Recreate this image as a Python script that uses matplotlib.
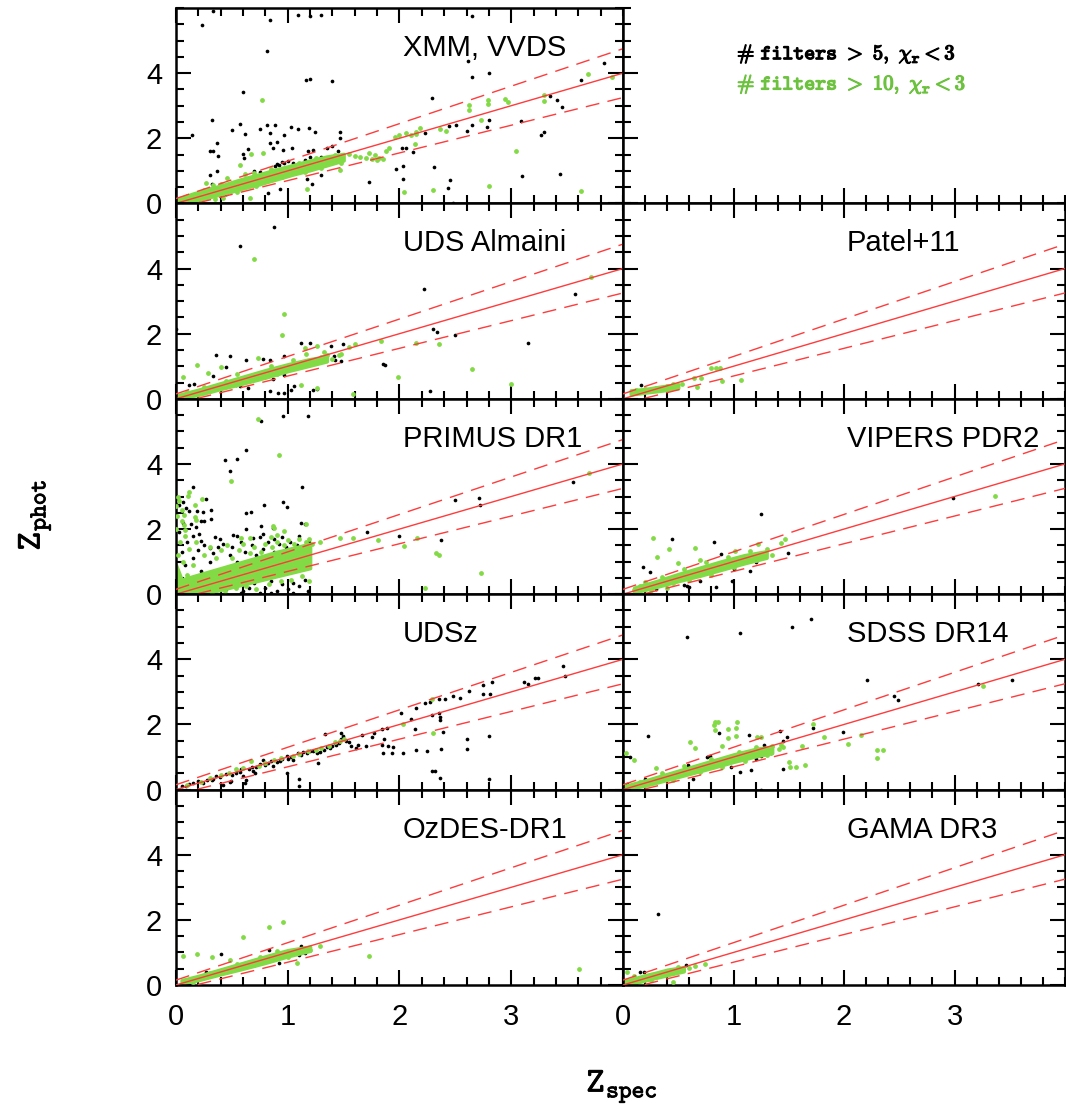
import matplotlib
matplotlib.use('Agg')
import matplotlib.pyplot as plt
import matplotlib.patheffects as pe
from matplotlib.ticker import MultipleLocator
import numpy as np

plt.rcParams['mathtext.fontset'] = 'cm'
plt.rcParams['font.family'] = ['Liberation Sans', 'DejaVu Sans']

GREEN = '#82da44'
GREEN_TXT = '#6cc23f'
RED = '#ff3b3b'

# ---------------------------------------------------------------- data
# (z_spec, z_phot) pairs; "core" = dense green locus (x, lower, upper)
xmm_black = [
    (0.23, 5.48), (0.33, 5.9), (0.84, 5.63), (0.81, 4.68), (1.09, 5.8), (1.2, 5.75), (1.3, 5.8),
    (2.65, 5.75), (0.6, 3.42), (1.16, 3.78), (1.2, 3.83), (1.4, 3.75), (2.61, 4.37), (2.65, 3.88),
    (2.8, 4.01), (3.83, 4.3), (3.62, 3.79), (2.29, 3.24), (3.41, 3.19), (3.45, 2.95), (3.35, 3.29),
    (0.14, 2.11), (0.32, 2.55), (0.5, 2.26), (0.57, 2.45), (0.62, 2.13), (0.75, 2.29), (0.81, 2.4),
    (0.89, 2.4), (0.84, 2.16), (0.97, 2.09), (1.03, 2.34), (1.09, 2.28), (1.19, 2.32), (1.24, 2.19),
    (1.47, 2.19), (1.47, 2.01), (0.3, 1.62), (0.33, 1.6), (0.38, 1.45), (0.37, 1.86), (0.64, 1.67),
    (0.6, 1.52), (0.61, 1.39), (0.87, 1.7), (0.9, 1.89), (0.84, 1.86), (0.96, 1.65), (1.04, 1.7),
    (1.18, 1.6), (1.23, 1.65), (0.92, 1.19), (0.89, 1.16), (0.97, 1.24), (0.99, 1.09), (1.4, 1.75),
    (1.35, 1.7), (1.45, 1.6), (2.02, 1.7), (2.06, 1.7), (2.12, 1.58), (2.23, 2.16), (2.51, 2.42),
    (2.65, 2.42), (2.8, 2.57), (2.78, 2.34), (3.09, 2.54), (3.27, 2.11), (3.29, 2.18), (2.6, 2.21),
    (2.44, 2.39), (1.97, 1.06), (2.03, 1.16), (2.31, 1.12), (1.73, 0.65), (2.03, 0.76), (2.45, 0.73),
    (2.43, 0.47), (2.48, 0.01), (3.1, 0.83), (3.44, 0.9), (0.3, 0.86), (0.32, 0.59), (0.37, 1.01),
    (0.82, 0.32), (0.93, 0.45), (1.17, 0.75), (1.22, 0.6), (1.3, 0.86), (0.9, 1.22), (0.95, 1.28),
    (1.0, 1.31), (1.05, 1.25), (1.15, 1.34), (1.2, 1.42), (1.3, 1.41), (0.7, 1.0), (0.75, 0.95),
    (0.2, 0.05), (0.45, 0.3),
]
xmm_green = [
    (0.77, 3.17), (1.17, 0.44), (2.04, 0.34), (2.3, 0.41), (2.8, 0.52), (3.04, 1.61), (3.62, 0.39),
    (3.69, 3.96), (3.9, 3.88), (3.29, 3.34), (3.29, 3.14), (2.79, 3.17), (2.79, 3.04), (2.94, 3.22),
    (2.97, 3.12), (2.62, 3.02), (2.62, 2.86), (2.73, 2.55), (2.36, 2.27), (2.42, 2.22), (2.18, 2.3),
    (2.15, 2.19), (2.0, 2.11), (2.06, 2.15), (2.1, 2.1), (2.15, 2.12), (1.96, 2.05), (2.14, 1.81),
    (1.65, 1.42), (1.7, 1.38), (1.75, 1.35), (1.8, 1.33), (1.85, 1.35), (1.82, 1.4), (1.91, 1.7),
    (1.88, 1.6), (1.78, 1.5), (1.73, 1.55), (1.47, 1.04), (0.78, 1.55), (0.67, 1.52), (0.57, 1.19),
    (0.66, 0.16), (0.42, 0.16), (0.33, 0.57), (0.27, 0.63), (0.46, 0.78), (0.1, 0.22), (0.25, 0.4),
    (0.35, 0.15), (0.5, 0.64), (0.55, 0.35), (0.7, 0.92), (0.72, 0.52), (0.85, 1.06), (0.95, 0.8),
    (1.1, 1.24), (1.15, 0.95), (1.25, 1.38), (1.3, 1.1), (1.42, 1.5), (1.48, 1.25), (1.55, 1.52),
    (1.6, 1.46), (0.05, 0.16), (0.62, 0.9), (0.4, 0.6), (1.0, 0.9),
]
xmm_core = ([0.0, 0.15, 0.3, 0.45, 0.6, 0.75, 0.9, 1.05, 1.2, 1.35, 1.5],
            [0.0, 0.07, 0.19, 0.32, 0.46, 0.59, 0.74, 0.89, 1.02, 1.17, 1.32],
            [0.12, 0.3, 0.45, 0.6, 0.76, 0.9, 1.05, 1.18, 1.32, 1.44, 1.52])

uds_black = [
    (0.88, 5.28), (0.57, 4.69), (2.22, 3.37), (2.3, 2.13), (2.34, 2.06), (2.5, 1.95), (3.15, 1.71),
    (3.57, 3.21), (1.85, 1.08), (1.87, 1.03), (1.41, 1.3), (1.42, 1.2), (1.48, 1.16), (1.39, 1.61),
    (1.49, 1.69), (1.12, 1.72), (1.2, 1.71), (0.36, 1.34), (0.48, 1.3), (0.63, 1.18), (0.45, 0.97),
    (0.78, 1.23), (0.84, 1.2), (0.97, 1.3), (0.12, 0.41), (0.16, 0.46), (0.33, 0.69), (0.54, 0.41),
    (0.57, 0.38), (0.64, 0.34), (0.84, 0.23), (0.91, 0.17), (0.97, 0.17), (1.03, 0.26), (1.06, 0.38),
    (1.23, 0.26), (1.26, 0.31), (0.87, 0.62), (0.97, 0.72), (0.79, 0.69), (2.27, 0.23), (0.0, 2.15),
    (1.0, 0.95), (1.1, 1.05), (0.3, 0.25), (0.6, 0.55),
]
uds_green = [
    (0.7, 4.28), (0.97, 2.59), (0.95, 1.95), (1.15, 1.56), (1.26, 1.62), (1.16, 1.38), (1.32, 1.44),
    (1.3, 1.28), (1.46, 1.33), (1.48, 1.38), (1.55, 1.59), (1.6, 1.69), (1.83, 1.79), (2.15, 1.72),
    (2.35, 1.67), (1.99, 0.67), (2.65, 0.9), (3.0, 0.46), (3.71, 3.74), (1.58, 0.15), (1.26, 0.33),
    (1.12, 0.41), (0.19, 1.03), (0.73, 1.26), (0.4, 0.97), (0.29, 0.79), (0.06, 0.67), (0.1, 0.2),
    (0.25, 0.35), (0.45, 0.55), (0.55, 0.75), (0.7, 0.6), (0.85, 1.0), (0.9, 0.75), (1.05, 1.2),
    (1.2, 1.1), (1.35, 1.35), (1.4, 1.22),
]
uds_core = ([0.0, 0.2, 0.4, 0.6, 0.8, 1.0, 1.2, 1.35],
            [0.0, 0.12, 0.3, 0.47, 0.65, 0.85, 1.02, 1.15],
            [0.1, 0.28, 0.48, 0.68, 0.88, 1.06, 1.22, 1.3])

primus_black = [
    (0.76, 5.33), (0.96, 5.47), (1.18, 5.48), (0.63, 4.43), (0.55, 4.15), (0.44, 4.11), (0.48, 3.79),
    (1.13, 3.28), (0.15, 3.3), (0.96, 2.83), (0.99, 2.67), (0.79, 2.73), (0.63, 2.49), (0.67, 2.53),
    (0.27, 2.91), (0.31, 2.58), (0.24, 2.52), (0.19, 2.54), (0.06, 2.83), (0.03, 2.75), (0.09, 2.65),
    (0.12, 2.54), (0.22, 2.26), (0.25, 2.26), (0.31, 2.3), (0.63, 1.99), (0.76, 2.09), (0.87, 2.03),
    (1.12, 2.18), (1.15, 2.15), (0.18, 2.05), (0.13, 2.15), (0.21, 1.86), (0.22, 1.62), (0.3, 1.42),
    (0.39, 1.7), (0.51, 1.83), (0.69, 1.72), (0.78, 1.85), (0.88, 1.7), (3.55, 3.45), (2.5, 2.9),
    (2.71, 2.95), (2.72, 2.75), (1.71, 1.91), (2.0, 1.79), (2.37, 1.65),
    (0.05, 1.3), (0.08, 0.9), (0.1, 1.6), (0.12, 0.4), (0.15, 1.1), (0.2, 1.35), (0.22, 0.7),
    (0.25, 1.5), (0.28, 0.2), (0.3, 1.0), (0.33, 1.25), (0.35, 0.05), (0.38, 1.45), (0.4, 0.75),
    (0.42, 1.55), (0.45, 0.15), (0.48, 1.2), (0.5, 1.45), (0.52, 0.3), (0.55, 1.0), (0.58, 1.6),
    (0.6, 0.1), (0.62, 1.3), (0.65, 0.2), (0.68, 1.5), (0.7, 0.35), (0.72, 1.2), (0.75, 0.05),
    (0.78, 1.4), (0.8, 0.2), (0.82, 1.6), (0.85, 0.4), (0.88, 1.3), (0.9, 0.1), (0.92, 1.55),
    (0.95, 0.3), (0.98, 1.45), (1.0, 0.15), (1.02, 1.6), (1.05, 0.35), (1.08, 1.5), (1.1, 0.25),
    (1.12, 1.4), (1.15, 0.45), (1.18, 0.1), (1.19, 1.6), (0.02, 0.5), (0.03, 1.9), (0.06, 2.2),
    (0.15, 1.8), (0.35, 1.75), (0.55, 1.8), (0.75, 1.75), (0.95, 1.75), (1.1, 1.8), (0.17, 0.02),
    (0.4, 0.02), (0.58, 0.03), (0.85, 0.05), (1.05, 0.03),
]
primus_green = [
    (0.73, 5.38), (0.92, 4.27), (0.49, 3.47), (0.12, 3.14), (0.11, 3.03), (0.17, 2.75), (0.23, 2.93),
    (0.05, 2.6), (0.07, 2.44), (0.17, 2.36), (0.18, 2.29), (0.05, 2.24), (0.07, 2.11), (0.08, 1.98),
    (0.87, 2.08), (0.88, 2.03), (0.97, 1.93), (1.16, 2.15), (0.58, 1.72), (0.66, 1.72), (0.85, 1.77),
    (0.9, 1.83), (3.7, 3.72), (1.47, 1.72), (1.58, 1.72), (1.81, 1.67), (2.16, 1.74), (2.04, 1.47),
    (2.33, 1.28), (2.35, 1.19), (2.73, 0.65), (2.23, 0.18), (1.29, 1.6),
    (0.02, 1.2), (0.04, 1.6), (0.06, 1.0), (0.08, 1.8), (0.1, 0.6), (0.12, 1.4), (0.15, 0.9),
    (0.18, 1.6), (0.2, 0.2), (0.25, 1.2), (0.3, 1.45), (0.32, 0.05), (0.36, 1.1), (0.4, 1.35),
    (0.44, 0.1), (0.46, 1.5), (0.5, 1.1), (0.54, 0.2), (0.56, 1.35), (0.6, 1.55), (0.63, 0.25),
    (0.66, 1.25), (0.7, 1.45), (0.72, 0.15), (0.76, 1.3), (0.8, 1.55), (0.83, 0.3), (0.86, 1.45),
    (0.9, 1.6), (0.94, 0.4), (0.97, 1.5), (1.0, 1.65), (1.03, 0.45), (1.06, 1.55), (1.1, 1.68),
    (1.13, 0.55), (1.16, 1.6), (1.19, 1.7), (1.19, 0.4), (1.22, 1.55), (0.0, 2.7), (0.01, 2.4),
    (0.02, 3.0), (0.0, 2.0), (0.03, 2.85),
]
primus_core = ([0.0, 0.05, 0.3, 0.6, 0.9, 1.2],
               [0.0, 0.0, 0.05, 0.3, 0.55, 0.8],
               [0.9, 0.45, 0.7, 1.0, 1.3, 1.55])

udsz_black = [
    (3.46, 3.8), (3.48, 3.5), (3.11, 3.3), (3.15, 3.25), (3.21, 3.42), (3.24, 3.42), (2.75, 3.2),
    (2.83, 3.31), (2.75, 2.95), (2.81, 2.95), (2.62, 3.03), (2.54, 2.82), (2.48, 2.87), (2.41, 2.79),
    (2.35, 2.77), (2.27, 2.69), (2.23, 2.67), (2.15, 2.51), (2.01, 2.34), (2.1, 2.18), (2.35, 2.34),
    (2.36, 2.24), (2.36, 2.13), (2.29, 2.28), (2.14, 1.85), (2.39, 1.77), (2.6, 1.56), (2.8, 1.64),
    (2.6, 1.26), (2.37, 1.26), (2.25, 1.2), (2.15, 1.23), (2.03, 1.13), (1.93, 1.13), (1.85, 1.13),
    (1.94, 1.3), (1.9, 1.33), (1.84, 1.38), (1.86, 1.56), (1.77, 1.74), (1.89, 1.9), (1.84, 1.85),
    (1.75, 1.62), (1.66, 1.69), (1.63, 1.38), (1.57, 1.33), (1.61, 1.28), (1.7, 1.33), (2.29, 0.56),
    (2.32, 0.56), (2.36, 0.36), (2.8, 0.34), (1.1, 0.33), (1.1, 0.12), (0.99, 0.51), (1.27, 0.82),
    (1.33, 1.71), (1.48, 1.74), (1.49, 1.59), (1.42, 1.44), (0.63, 0.28), (0.62, 0.21), (0.48, 0.23),
    (0.71, 0.51), (0.09, 0.12), (0.24, 0.21), (0.33, 0.33), (0.39, 0.38), (0.42, 0.15), (0.49, 0.26),
    (0.54, 0.51), (0.6, 0.43), (0.69, 0.56), (0.78, 0.92), (0.82, 0.82), (0.87, 0.72), (0.93, 0.87),
    (0.99, 1.03), (1.05, 0.92), (1.09, 1.13), (1.14, 1.15), (1.2, 1.18), (1.26, 1.13), (1.32, 1.23),
    (1.38, 1.28), (1.43, 1.38), (1.48, 1.54), (1.49, 1.64), (1.52, 1.5), (1.55, 1.45), (0.15, 0.2),
    (0.2, 0.25), (0.28, 0.3), (0.36, 0.42), (0.45, 0.48), (0.5, 0.45), (0.57, 0.55), (0.65, 0.62),
    (0.72, 0.7), (0.75, 0.78), (0.8, 0.75), (0.85, 0.88), (0.9, 0.85), (0.95, 0.95), (1.0, 0.93),
    (1.03, 1.0), (1.12, 1.07), (1.17, 1.12), (1.23, 1.2), (1.29, 1.15), (1.35, 1.3), (1.4, 1.35),
    (1.46, 1.42), (0.12, 0.18), (0.32, 0.28), (0.58, 0.62), (0.68, 0.68), (0.05, 0.1),
]
udsz_green = [
    (2.03, 2.02), (2.3, 1.74), (2.29, 2.77), (0.67, 0.87), (0.54, 0.63), (0.4, 0.45), (0.47, 0.52),
    (0.6, 0.66), (0.74, 0.74), (0.8, 0.82), (0.88, 0.92), (0.94, 0.98), (1.05, 1.02), (1.1, 1.1),
    (1.18, 1.2), (1.25, 1.22), (1.3, 1.28), (1.37, 1.35), (1.42, 1.47), (1.47, 1.5), (1.5, 1.56),
    (0.3, 0.35), (0.22, 0.22), (0.1, 0.15),
]

patel_black = [(0.16, 0.43)]
patel_green = [
    (0.8, 0.95), (0.84, 0.95), (0.88, 0.95), (0.9, 0.54), (1.07, 0.58), (0.67, 0.36), (0.53, 0.46),
    (0.64, 0.65), (0.71, 0.63), (0.08, 0.18), (0.12, 0.28), (0.2, 0.3), (0.3, 0.32), (0.4, 0.38),
    (0.45, 0.45),
]
patel_core = ([0.07, 0.2, 0.35, 0.5],
              [0.13, 0.19, 0.25, 0.33],
              [0.26, 0.3, 0.38, 0.45])

vipers_black = [
    (1.25, 2.46), (2.99, 2.95), (0.82, 1.6), (0.44, 1.7), (0.18, 0.83), (0.24, 0.68), (1.49, 1.26),
    (1.15, 0.72), (0.84, 0.21), (0.58, 0.24), (0.89, 1.23), (0.99, 0.41), (0.55, 0.28), (0.6, 0.22),
    (0.3, 0.15), (0.7, 0.4), (1.0, 0.78), (1.2, 1.0),
]
vipers_green = [
    (3.37, 3.02), (0.27, 1.72), (0.42, 1.38), (0.31, 1.13), (1.47, 1.69), (1.43, 1.57), (1.22, 1.54),
    (1.01, 1.34), (0.65, 1.41), (0.5, 0.95), (0.15, 0.25), (0.2, 0.38), (0.35, 0.52), (0.45, 0.33),
    (0.55, 0.78), (0.6, 0.45), (0.75, 0.98), (0.8, 0.6), (0.95, 1.15), (1.0, 0.85), (1.15, 1.32),
    (1.2, 1.05), (1.3, 1.38), (1.35, 1.2), (0.1, 0.12), (0.25, 0.12), (0.4, 0.2), (0.7, 1.05),
]
vipers_core = ([0.1, 0.3, 0.5, 0.7, 0.9, 1.1, 1.3],
               [0.05, 0.22, 0.4, 0.57, 0.76, 0.95, 1.12],
               [0.2, 0.4, 0.62, 0.82, 1.02, 1.2, 1.32])

sdss_black = [
    (0.58, 4.69), (1.06, 4.81), (1.53, 4.99), (1.7, 5.23), (2.21, 3.38), (2.45, 2.87), (2.49, 2.74),
    (3.21, 3.23), (3.52, 3.38), (0.23, 1.64), (1.72, 1.88), (1.99, 1.77), (1.42, 1.81), (1.45, 1.49),
    (1.48, 1.62), (1.14, 1.67), (1.28, 1.36), (1.25, 1.04), (1.34, 1.11), (1.45, 0.63), (1.16, 0.59),
    (1.06, 0.54), (0.98, 0.7), (0.63, 0.34), (0.59, 0.75), (0.76, 0.99), (0.79, 1.03), (1.25, 0.0),
    (0.06, 0.99), (0.04, 0.16), (0.2, 0.34), (0.87, 1.74), (1.2, 0.95), (1.3, 1.2),
]
sdss_green = [
    (0.83, 2.08), (0.86, 2.08), (0.83, 1.83), (1.03, 2.08), (1.02, 1.9), (1.02, 1.65), (0.95, 1.85),
    (0.95, 1.58), (0.82, 1.98), (0.61, 1.45), (0.65, 1.29), (0.9, 1.33), (1.21, 1.62), (1.25, 1.62),
    (1.43, 1.36), (1.45, 1.31), (1.41, 1.26), (1.5, 0.85), (1.51, 0.7), (1.57, 0.7), (1.65, 0.75),
    (1.62, 1.33), (1.72, 2.0), (1.82, 1.6), (2.04, 1.41), (2.15, 1.67), (2.3, 1.21), (2.35, 1.21),
    (2.3, 0.98), (3.26, 3.18), (0.1, 0.9), (0.03, 1.12), (0.3, 0.65), (1.32, 1.19), (0.15, 0.22),
    (0.35, 0.5), (0.45, 0.3), (0.55, 0.72), (0.7, 0.55), (0.8, 0.95), (0.9, 0.7), (1.05, 1.15),
    (1.1, 0.88), (1.2, 1.3), (1.3, 1.05), (1.35, 1.35),
]
sdss_core = ([0.0, 0.2, 0.4, 0.6, 0.8, 1.0, 1.2, 1.35],
             [0.0, 0.12, 0.3, 0.48, 0.66, 0.85, 1.02, 1.12],
             [0.1, 0.28, 0.48, 0.68, 0.88, 1.08, 1.25, 1.32])

ozdes_black = [
    (0.4, 0.96), (1.12, 1.21), (1.1, 0.93), (1.15, 0.98), (0.83, 1.08), (0.92, 0.67), (0.27, 0.41),
    (0.07, 0.1), (1.05, 1.0),
]
ozdes_green = [
    (0.96, 1.92), (0.83, 1.77), (0.6, 1.48), (0.06, 0.9), (0.19, 0.96), (0.32, 0.85), (0.48, 0.77),
    (1.73, 0.88), (3.61, 0.48), (1.08, 0.69), (1.29, 1.2), (0.15, 0.1), (0.3, 0.38), (0.45, 0.4),
    (0.55, 0.65), (0.7, 0.6), (0.75, 0.85), (0.9, 1.05), (1.0, 0.85), (1.15, 1.15), (1.2, 1.08),
]
ozdes_core = ([0.05, 0.2, 0.4, 0.6, 0.8, 1.0, 1.2],
              [0.05, 0.15, 0.33, 0.5, 0.68, 0.88, 1.05],
              [0.15, 0.28, 0.48, 0.68, 0.88, 1.07, 1.18])

gama_black = [(0.32, 2.19), (0.15, 0.41), (0.19, 0.39), (0.57, 0.61)]
gama_green = [
    (0.45, 0.1), (0.6, 0.51), (0.65, 0.58), (0.74, 0.66), (0.04, 0.41), (0.1, 0.28), (0.25, 0.15),
    (0.5, 0.55),
]
gama_core = ([0.0, 0.1, 0.2, 0.3, 0.4, 0.55],
             [0.0, 0.05, 0.14, 0.22, 0.3, 0.42],
             [0.12, 0.2, 0.3, 0.38, 0.47, 0.55])

panels = [
    [('XMM, VVDS', xmm_black, xmm_green, xmm_core), None],
    [('UDS Almaini', uds_black, uds_green, uds_core), ('Patel+11', patel_black, patel_green, patel_core)],
    [('PRIMUS DR1', primus_black, primus_green, primus_core), ('VIPERS PDR2', vipers_black, vipers_green, vipers_core)],
    [('UDSz', udsz_black, udsz_green, None), ('SDSS DR14', sdss_black, sdss_green, sdss_core)],
    [('OzDES-DR1', ozdes_black, ozdes_green, ozdes_core), ('GAMA DR3', gama_black, gama_green, gama_core)],
]


def style_ticks(ax, left_labels, bottom_labels):
    ax.set_xlim(0, 4)
    ax.set_ylim(0, 6)
    ax.set_xticks([0, 1, 2, 3])
    ax.set_yticks([0, 2, 4])
    ax.xaxis.set_minor_locator(MultipleLocator(0.2))
    ax.yaxis.set_minor_locator(MultipleLocator(0.5))
    ax.tick_params(which='both', direction='in', top=True, right=True, width=1.5,
                   labelleft=left_labels, labelbottom=bottom_labels, labelsize=21)
    ax.tick_params(which='major', length=11)
    ax.tick_params(which='minor', length=5.5)
    ax.tick_params(axis='x', pad=13)
    ax.tick_params(axis='y', pad=10)
    for sp in ax.spines.values():
        sp.set_linewidth(1.8)


def draw_panel(ax, name, black, green, core):
    if core is not None:
        ax.fill_between(core[0], core[1], core[2], color=GREEN, lw=2.5, zorder=2)
    b = np.array(black)
    g = np.array(green)
    ax.scatter(b[:, 0], b[:, 1], s=7, color='black', lw=0, zorder=1)
    ax.scatter(g[:, 0], g[:, 1], s=12, color=GREEN, lw=0, zorder=3)
    z = np.array([0.0, 4.0])
    ax.plot(z, z, color=RED, lw=1.0, zorder=4)
    for sgn in (1, -1):
        ax.plot(z, z + sgn * 0.15 * (1 + z), color=RED, lw=1.0, dashes=(10, 6), zorder=4)
    ax.text(0.507, 0.795, name, transform=ax.transAxes, fontsize=21,
            ha='left', va='center')


fig = plt.figure(figsize=(10.66, 11.07), dpi=100)
W, H = 1066.0, 1107.0
x_left = [176, 623]
widths = [447, 442]
top, bottom = 8, 985
row_h = (bottom - top) / 5.0

for r, row in enumerate(panels):
    for c, spec in enumerate(row):
        y0 = top + (r + 1) * row_h
        rect = [x_left[c] / W, 1 - y0 / H, widths[c] / W, row_h / H]
        ax = fig.add_axes(rect)
        if spec is None:
            # corner slot: only the shared left/bottom edges, plus the sample key
            style_ticks(ax, False, False)
            ax.spines['top'].set_visible(False)
            ax.spines['right'].set_visible(False)
            ax.tick_params(which='both', top=False, right=False)
            ax.text(0.258, 0.763, r'$\mathtt{\#\ filters\ >\ 5,\ }\chi_{\mathtt{r}}\mathtt{<3}$',
                    transform=ax.transAxes, fontsize=15, ha='left', va='center', color='black',
                    path_effects=[pe.withStroke(linewidth=0.9, foreground='black')])
            ax.text(0.258, 0.608, r'$\mathtt{\#\ filters\ >\ 10,\ }\chi_{\mathtt{r}}\mathtt{<3}$',
                    transform=ax.transAxes, fontsize=15, ha='left', va='center', color=GREEN_TXT,
                    path_effects=[pe.withStroke(linewidth=0.9, foreground=GREEN_TXT)])
            continue
        name, black, green, core = spec
        draw_panel(ax, name, black, green, core)
        style_ticks(ax, c == 0, r == 4)

fig.text(35 / W, 1 - 515 / H, r'$\mathtt{Z_{phot}}$', rotation=90, fontsize=25,
         ha='center', va='center',
         path_effects=[pe.withStroke(linewidth=0.6, foreground='black')])
fig.text(622 / W, 1 - 1087 / H, r'$\mathtt{Z_{spec}}$', fontsize=25,
         ha='center', va='center',
         path_effects=[pe.withStroke(linewidth=0.6, foreground='black')])

fig.savefig('out.png', dpi=100)
